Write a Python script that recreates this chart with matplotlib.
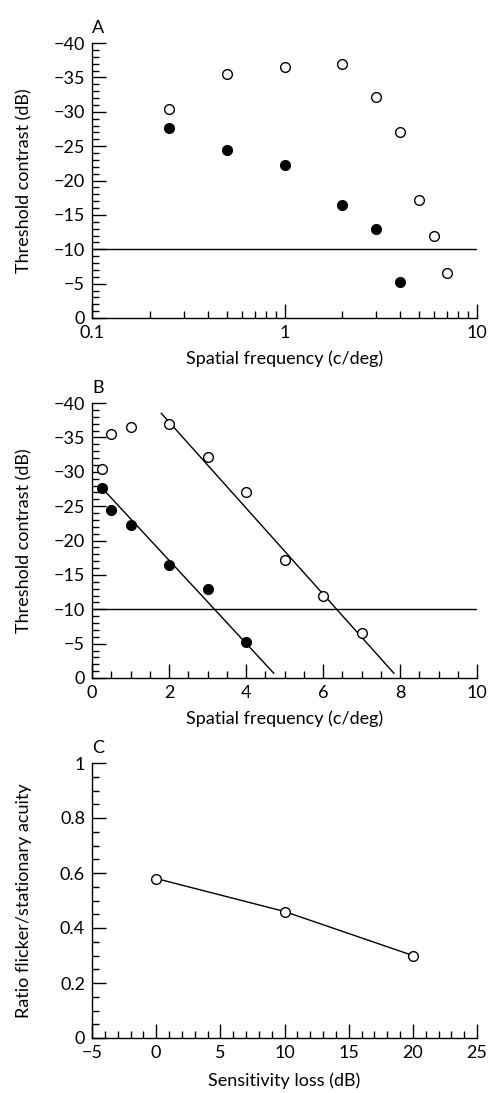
import matplotlib
matplotlib.use("Agg")
import matplotlib.pyplot as plt
from matplotlib.ticker import MultipleLocator, LogLocator, FixedLocator, NullFormatter
import numpy as np

plt.rcParams['font.family'] = ['Lato', 'DejaVu Sans']

# ---- data ----
freq_open = [0.25, 0.5, 1, 2, 3, 4, 5, 6, 7]
thr_open = [-30.4, -35.5, -36.5, -37.0, -32.2, -27.0, -17.2, -11.9, -6.5]
freq_filled = [0.25, 0.5, 1, 2, 3, 4]
thr_filled = [-27.7, -24.5, -22.3, -16.5, -12.9, -5.2]

fit_filled_x = [0.2, 4.72]
fit_filled_y = [-28.0, -0.7]
fit_open_x = [1.8, 7.84]
fit_open_y = [-38.5, -0.7]

reference_level = -10

loss_db = [0, 10, 20]
ratio = [0.58, 0.46, 0.30]

W, H = 492, 1093
fig = plt.figure(figsize=(W / 100, H / 100), dpi=100)

left = 92 / W
width = (477 - 92) / W
def rect(top_px, bottom_px):
    return [left, 1 - bottom_px / H, width, (bottom_px - top_px) / H]

FS = 13
LW = 1.0

def style(ax):
    ax.spines['top'].set_visible(False)
    ax.spines['right'].set_visible(False)
    for s in ('left', 'bottom'):
        ax.spines[s].set_linewidth(LW)
    ax.tick_params(which='major', direction='in', length=10, width=LW, labelsize=FS, pad=5)
    ax.tick_params(which='minor', direction='in', length=5, width=LW)

mk = dict(markersize=7, markeredgewidth=1.0, linestyle='none')

def ylab(ax, text):
    ax.set_ylabel(text, fontsize=FS)
    ax.yaxis.set_label_coords(-0.155, 0.5)

# Panel A
axA = fig.add_axes(rect(43, 318))
axA.set_xscale('log')
axA.set_xlim(0.1, 10)
axA.set_ylim(0, -40)
axA.axhline(reference_level, color='black', lw=LW)
axA.plot(freq_open, thr_open, marker='o', mfc='white', mec='black', **mk)
axA.plot(freq_filled, thr_filled, marker='o', mfc='black', mec='black', **mk)
axA.xaxis.set_major_locator(FixedLocator([0.1, 1, 10]))
axA.xaxis.set_minor_locator(LogLocator(base=10, subs=np.arange(2, 10)))
axA.xaxis.set_minor_formatter(NullFormatter())
axA.set_xticklabels(['0.1', '1', '10'])
axA.yaxis.set_major_locator(MultipleLocator(5))
axA.yaxis.set_minor_locator(MultipleLocator(1))
style(axA)
axA.set_xlabel('Spatial frequency (c/deg)', fontsize=FS, labelpad=7)
ylab(axA, 'Threshold contrast (dB)')
axA.text(0.0, 1.025, 'A', transform=axA.transAxes, fontsize=FS, ha='left', va='bottom')

# Panel B
axB = fig.add_axes(rect(403, 678))
axB.set_xlim(0, 10)
axB.set_ylim(0, -40)
axB.axhline(reference_level, color='black', lw=LW)
axB.plot(fit_filled_x, fit_filled_y, color='black', lw=LW)
axB.plot(fit_open_x, fit_open_y, color='black', lw=LW)
axB.plot(freq_open, thr_open, marker='o', mfc='white', mec='black', **mk)
axB.plot(freq_filled, thr_filled, marker='o', mfc='black', mec='black', **mk)
axB.xaxis.set_major_locator(MultipleLocator(2))
axB.xaxis.set_minor_locator(MultipleLocator(0.5))
axB.yaxis.set_major_locator(MultipleLocator(5))
axB.yaxis.set_minor_locator(MultipleLocator(1))
style(axB)
axB.set_xlabel('Spatial frequency (c/deg)', fontsize=FS, labelpad=7)
ylab(axB, 'Threshold contrast (dB)')
axB.text(0.0, 1.025, 'B', transform=axB.transAxes, fontsize=FS, ha='left', va='bottom')

# Panel C
axC = fig.add_axes(rect(763, 1038))
axC.set_xlim(-5, 25)
axC.set_ylim(0, 1)
axC.plot(loss_db, ratio, color='black', lw=LW, marker='o', mfc='white', mec='black',
         markersize=7, markeredgewidth=1.0)
axC.xaxis.set_major_locator(MultipleLocator(5))
axC.xaxis.set_minor_locator(MultipleLocator(1))
axC.yaxis.set_major_locator(MultipleLocator(0.2))
axC.yaxis.set_minor_locator(MultipleLocator(0.05))
axC.yaxis.set_major_formatter(plt.FuncFormatter(lambda v, p: '0' if abs(v) < 1e-9 else ('1' if abs(v - 1) < 1e-9 else f'{v:.1f}')))
style(axC)
axC.set_xlabel('Sensitivity loss (dB)', fontsize=FS, labelpad=8)
ylab(axC, 'Ratio flicker/stationary acuity')
axC.text(0.0, 1.025, 'C', transform=axC.transAxes, fontsize=FS, ha='left', va='bottom')

fig.savefig('out.png', dpi=100)
